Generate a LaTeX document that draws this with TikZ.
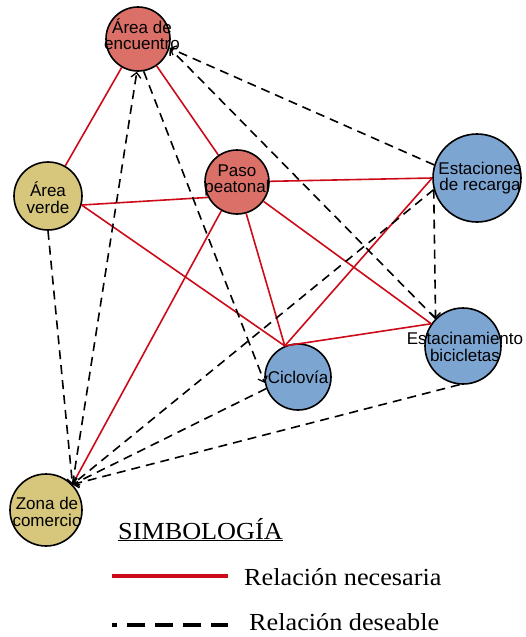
\documentclass[tikz,border=0pt]{standalone}
\usepackage{fontspec}
\setmainfont{Liberation Serif}[FakeStretch=1.07]
\newfontfamily\nodefont{Liberation Sans}
\usetikzlibrary{arrows.meta}
\definecolor{rojo}{RGB}{205,10,25}
\definecolor{salmon}{RGB}{219,112,104}
\definecolor{arena}{RGB}{214,199,125}
\definecolor{celeste}{RGB}{125,165,210}
\tikzstyle{area}=[draw,circle,line width=1.6pt,inner sep=0pt]
\tikzstyle{lbl}=[font=\nodefont\fontsize{17}{16}\selectfont,align=center,inner sep=0pt]
\tikzstyle{nec}=[draw=rojo,line width=1.6pt]
\tikzstyle{des}=[draw=black,line width=1.6pt,dash pattern=on 9pt off 6pt,
  -{Straight Barb[length=5pt,width=10pt,line width=1.3pt]}]
\tikzstyle{leyenda}=[font=\fontsize{24.5}{28}\selectfont,inner sep=0pt,anchor=base west]

\begin{document}
\begin{tikzpicture}[x=1pt, y=-1pt]
  \useasboundingbox (0,0) rectangle (526,637);

  % zonas
  \node[area, fill=salmon, minimum size=64pt,
    label={[lbl,xshift=4pt,yshift=5pt]center:Área de\\encuentro}] (encuentro) at (138,39) {};
  \node[area, fill=salmon, minimum size=64pt,
    label={[lbl,yshift=2pt]center:Paso\\peatonal}] (paso) at (237,182) {};
  \node[area, fill=arena, minimum size=68pt,
    label={[lbl,font=\nodefont\fontsize{17}{17}\selectfont,yshift=-2pt]center:Área\\verde}] (verde) at (48,196) {};
  \node[area, fill=celeste, minimum size=88pt,
    label={[lbl,xshift=3pt]center:Estaciones\\de recarga}] (recarga) at (477,178) {};
  \node[area, fill=celeste, minimum size=76pt,
    label={[lbl,font=\nodefont\fontsize{17}{16.5}\selectfont,xshift=2pt,yshift=-1pt]center:Estacinamiento\\bicicletas}] (bicis) at (463,346) {};
  \node[area, fill=celeste, minimum size=66pt,
    label={[lbl]center:Ciclovía}] (ciclovia) at (298,377) {};
  \node[area, fill=arena, minimum size=72pt,
    label={[lbl,font=\nodefont\fontsize{17}{16.5}\selectfont,xshift=1pt,yshift=-2pt]center:Zona de\\comercio}] (comercio) at (46,510) {};

  % relaciones necesarias
  \draw[nec] (encuentro) -- (verde);
  \draw[nec] (encuentro) -- (paso);
  \draw[nec] (verde.-15) -- (paso.208);
  \draw[nec] (verde.-15) -- (ciclovia.113);
  \draw[nec] (paso) -- (recarga.180);
  \draw[nec] (paso) -- (bicis.145);
  \draw[nec] (paso) -- (ciclovia.113);
  \draw[nec] (paso) -- (comercio.44);
  \draw[nec] (ciclovia.113) -- (recarga.180);
  \draw[nec] (ciclovia.113) -- (bicis.145);

  % relaciones deseables
  \draw[des] (recarga.163) -- (encuentro.-16);
  \draw[des] (bicis.135) -- (encuentro.-16);
  \draw[des] (recarga.195) -- (bicis.135);
  \draw[des] (encuentro.-80) -- (ciclovia.190);
  \draw[des] (comercio.44) -- (encuentro.-92);
  \draw[des] (verde.-90) -- (comercio.44);
  \draw[des] (recarga.195) -- (comercio.44);
  \draw[des] (ciclovia.200) -- (comercio.44);
  \draw[des] (bicis.-95) -- (comercio.44);

  % simbologia
  \node[leyenda] (simb) at (118,539) {\underline{SIMBOLOGÍA}};
  \coordinate (n1) at (112,576);
  \coordinate (n2) at (228,576);
  \draw[rojo, line width=3.5pt] (n1) -- (n2);
  \node[leyenda] (tnec) at (244,585) {Relación necesaria};
  \coordinate (d1) at (112,625);
  \coordinate (d2) at (228,625);
  \draw[line width=4pt, dash pattern=on 18pt off 10pt, dash phase=13pt] (d1) -- (d2);
  \node[leyenda] (tdes) at (249,630) {Relación deseable};
\end{tikzpicture}
\end{document}
